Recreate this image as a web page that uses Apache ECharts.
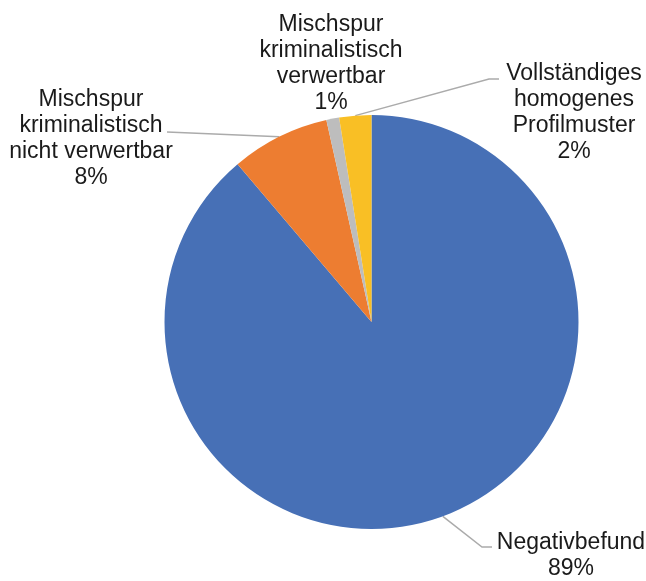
<!DOCTYPE html>
<html>
<head>
<meta charset="utf-8">
<script src="https://cdn.jsdelivr.net/npm/echarts@6/dist/echarts.min.js"></script>
<style>
  html, body { margin: 0; padding: 0; background: #fff; }
  #chart { width: 646px; height: 581px; }
</style>
</head>
<body>
<div id="chart"></div>
<script>
// Werte (Anteile in %)
const categories = [
  'Negativbefund',
  'Mischspur\nkriminalistisch\nnicht verwertbar',
  'Mischspur\nkriminalistisch\nverwertbar',
  'Vollständiges\nhomogenes\nProfilmuster'
]
const values = [88.8, 7.7, 1.0, 2.5]
const colors = ['#4770B6', '#ED7D31', '#BDBDBD', '#F9BF25']

// Label-Mittelpunkte und Enden der Führungslinien (px)
const labelPos = [[571, 556], [91, 139], [331, 64], [574, 113]]
const lineEnd = [[492, 547], [167, 132], null, [499, 79]]

const chart = echarts.init(document.getElementById('chart'))

chart.setOption({
  animation: false,
  series: [{
    type: 'pie',
    center: [371.5, 322],
    radius: 207,
    startAngle: 90,
    clockwise: true,
    percentPrecision: 0,
    data: categories.map((name, i) => ({
      name,
      value: values[i],
      itemStyle: { color: colors[i] },
      labelLine: { show: lineEnd[i] !== null }
    })),
    itemStyle: { borderWidth: 0 },
    label: {
      show: true,
      formatter: '{b}\n{d}%',
      fontFamily: 'Liberation Sans, Arial, sans-serif',
      fontSize: 23,
      lineHeight: 26,
      color: '#1a1a1a',
      align: 'center',
      overflow: 'none'
    },
    labelLine: {
      show: true,
      length: 20,
      length2: 10,
      lineStyle: { color: '#ABABAB', width: 1.5 }
    },
    labelLayout: (params) => {
      const i = params.dataIndex
      const out = {
        x: labelPos[i][0],
        y: labelPos[i][1],
        align: 'center',
        verticalAlign: 'middle'
      }
      const end = lineEnd[i]
      if (end && params.labelLinePoints) {
        const start = params.labelLinePoints[0]
        const right = end[0] > start[0]
        const bend = right ? [end[0] - 10, end[1]] : end
        out.labelLinePoints = [start, bend, end]
      }
      return out
    }
  }]
})
</script>
</body>
</html>
